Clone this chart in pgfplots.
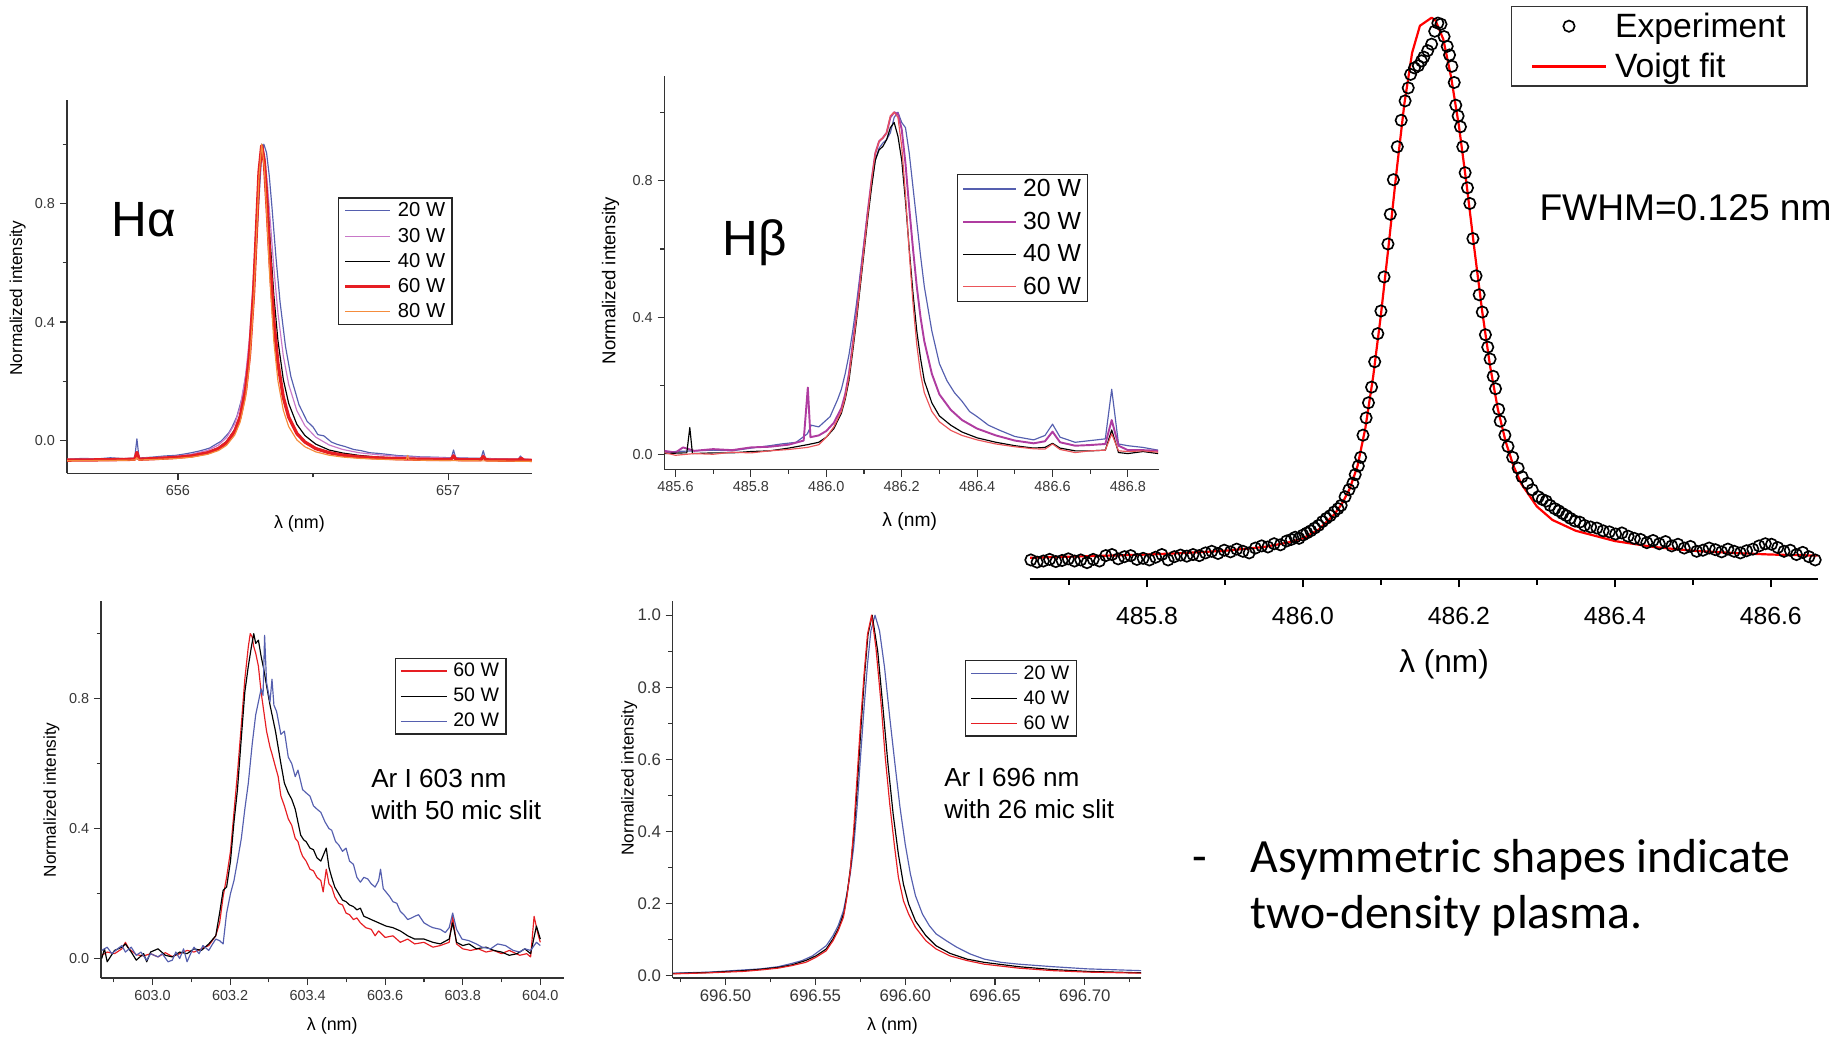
\documentclass[border=0pt]{standalone}
\usepackage{fontspec}
\setmainfont{Liberation Sans}
\newfontfamily\calibri{Carlito}
\usepackage{pgfplots}
\pgfplotsset{compat=1.18}

\definecolor{cblue}{RGB}{85,95,175}
\definecolor{cmagL}{RGB}{200,120,200}
\definecolor{cmag}{RGB}{175,60,160}
\definecolor{cred}{RGB}{230,30,35}
\definecolor{credL}{RGB}{235,85,90}
\definecolor{corange}{RGB}{245,140,60}
\definecolor{tgray}{RGB}{55,55,55}

\pgfplotsset{
  small/.style={
    scale only axis, axis lines=left,
    axis line style={-, line width=0.9pt, draw=black!80},
    x axis line style={-}, y axis line style={-},
    tick align=outside, major tick length=1.8mm, minor tick length=1.1mm,
    tick style={line width=0.8pt, draw=black!80},
    ticklabel style={font=\fontsize{10.5}{12}\selectfont, text=tgray},
    legend cell align=left,
    every axis plot/.append style={line join=round},
    legend style={draw=black!85, line width=1pt, inner xsep=3.5pt, inner ysep=2pt, column sep=3pt, nodes={inner sep=1.5pt}},
  }
}

\begin{document}
\begin{tikzpicture}
\path[use as bounding box] (0,0) rectangle (470.4mm,-265.2mm);

% ---------------- H alpha ----------------
\begin{axis}[small, at={(17.1mm,-120.9mm)}, anchor=south west, width=118.8mm, height=95.4mm,
 xmin=655.589, xmax=657.31, ymin=-0.11, ymax=1.15,
 xtick={656,657}, xticklabels={656,657}, minor xtick={656.5},
 ytick={0,0.4,0.8}, yticklabels={0.0,0.4,0.8}, minor ytick={0.2,0.6,1.0},
 xlabel={λ (nm)}, ylabel={Normalized intensity},
 xlabel style={at={(axis description cs:0.5,-0.135)}, anchor=center, font=\fontsize{13}{15}\selectfont},
 ylabel style={at={(axis description cs:-0.106,0.469)}, anchor=center, font=\fontsize{12.5}{14}\selectfont},
 legend style={at={(0.583,0.739)}, anchor=north west, font=\fontsize{14.7}{16}\selectfont, row sep=3.6pt},
 legend image code/.code={\draw[#1] (0mm,0mm) -- (11.5mm,0mm);},
]
\addplot[cblue, line width=0.85pt] coordinates {
(655.59,-0.063) (655.65,-0.060) (655.70,-0.062) (655.75,-0.058) (655.80,-0.061) (655.84,-0.059) (655.848,0.006) (655.856,-0.059)
(655.91,-0.0555) (655.95,-0.052) (655.99,-0.050) (656.02,-0.046) (656.05,-0.041) (656.08,-0.035) (656.10,-0.030) (656.118,-0.025)
(656.13,-0.018) (656.158,-0.003) (656.17,0.008) (656.188,0.026) (656.20,0.045) (656.218,0.081) (656.238,0.147) (656.258,0.262)
(656.273,0.404) (656.288,0.616) (656.298,0.787) (656.308,0.937) (656.318,1.0) (656.328,0.971) (656.338,0.893) (656.348,0.787)
(656.363,0.616) (656.378,0.467) (656.398,0.318) (656.418,0.216) (656.448,0.121) (656.478,0.065) (656.50,0.046) (656.518,0.020)
(656.54,0.016) (656.568,-0.005) (656.59,-0.013) (656.618,-0.020) (656.65,-0.030) (656.678,-0.034) (656.71,-0.041) (656.738,-0.043)
(656.77,-0.046) (656.818,-0.051) (656.85,-0.052) (656.898,-0.055) (656.95,-0.056) (656.978,-0.057) (657.012,-0.058) (657.020,-0.032)
(657.028,-0.058) (657.07,-0.059) (657.122,-0.060) (657.130,-0.034) (657.138,-0.060) (657.19,-0.062) (657.26,-0.063) (657.268,-0.052)
(657.276,-0.063) (657.31,-0.065)};
\addplot[cmagL, line width=0.85pt] coordinates {
(655.59,-0.063) (655.69,-0.062) (655.79,-0.061) (655.84,-0.060) (655.848,-0.038) (655.856,-0.060) (655.91,-0.0575) (655.99,-0.053)
(656.05,-0.046) (656.11,-0.033) (656.15,-0.015) (656.18,0.010) (656.21,0.056) (656.23,0.113) (656.25,0.216) (656.265,0.350)
(656.28,0.563) (656.29,0.749) (656.30,0.923) (656.31,1.0) (656.32,0.967) (656.33,0.879) (656.34,0.762) (656.355,0.582)
(656.37,0.431) (656.39,0.285) (656.41,0.189) (656.44,0.101) (656.47,0.050) (656.51,0.0115) (656.56,-0.015) (656.61,-0.030)
(656.67,-0.041) (656.73,-0.047) (656.81,-0.053) (656.89,-0.056) (656.97,-0.058) (657.01,-0.059) (657.02,-0.046) (657.03,-0.059)
(657.07,-0.060) (657.12,-0.061) (657.13,-0.048) (657.14,-0.061) (657.19,-0.062) (657.26,-0.062) (657.27,-0.056) (657.28,-0.062)
(657.31,-0.064)};
\addplot[black, line width=0.85pt] coordinates {
(655.59,-0.066) (655.69,-0.065) (655.79,-0.0635) (655.84,-0.063) (655.848,-0.048) (655.856,-0.063) (655.91,-0.061) (655.99,-0.057)
(656.05,-0.051) (656.11,-0.040) (656.15,-0.024) (656.18,-0.003) (656.21,0.037) (656.23,0.087) (656.25,0.180) (656.265,0.306)
(656.28,0.517) (656.29,0.713) (656.30,0.910) (656.31,1.0) (656.32,0.954) (656.33,0.837) (656.34,0.691) (656.355,0.489)
(656.37,0.338) (656.39,0.206) (656.41,0.125) (656.44,0.055) (656.47,0.017) (656.51,-0.012) (656.56,-0.032) (656.61,-0.042)
(656.67,-0.050) (656.73,-0.055) (656.81,-0.059) (656.89,-0.061) (656.97,-0.063) (657.01,-0.063) (657.02,-0.056) (657.03,-0.064)
(657.07,-0.064) (657.12,-0.065) (657.13,-0.058) (657.14,-0.065) (657.19,-0.065) (657.31,-0.066)};
\addplot[cred, line width=2.4pt] coordinates {
(655.59,-0.066) (655.69,-0.0652) (655.79,-0.064) (655.84,-0.063) (655.848,-0.040) (655.856,-0.063) (655.91,-0.061) (655.99,-0.057)
(656.05,-0.052) (656.11,-0.041) (656.15,-0.027) (656.18,-0.007) (656.21,0.031) (656.23,0.079) (656.25,0.168) (656.265,0.291)
(656.28,0.50) (656.29,0.700) (656.30,0.905) (656.31,0.995) (656.32,0.937) (656.33,0.786) (656.34,0.616) (656.355,0.403)
(656.37,0.261) (656.39,0.146) (656.41,0.079) (656.44,0.024) (656.47,-0.005) (656.51,-0.027) (656.56,-0.041) (656.61,-0.049)
(656.67,-0.055) (656.73,-0.058) (656.81,-0.061) (656.89,-0.063) (656.97,-0.064) (657.01,-0.064) (657.02,-0.052) (657.03,-0.064)
(657.07,-0.065) (657.12,-0.065) (657.13,-0.054) (657.14,-0.065) (657.19,-0.066) (657.26,-0.066) (657.27,-0.060) (657.28,-0.066)
(657.31,-0.067)};
\addplot[corange, line width=0.85pt] coordinates {
(655.59,-0.068) (655.69,-0.0675) (655.79,-0.0665) (655.84,-0.0656) (655.848,-0.058) (655.856,-0.0655) (655.91,-0.064) (655.99,-0.0607)
(656.05,-0.056) (656.11,-0.0464) (656.15,-0.0336) (656.18,-0.016) (656.21,0.0184) (656.23,0.062) (656.25,0.144) (656.265,0.259)
(656.28,0.465) (656.29,0.671) (656.30,0.893) (656.31,1.0) (656.32,0.919) (656.33,0.737) (656.34,0.547) (656.355,0.333)
(656.37,0.202) (656.39,0.102) (656.41,0.047) (656.44,0.0023) (656.47,-0.021) (656.51,-0.038) (656.56,-0.0494) (656.61,-0.0556)
(656.67,-0.060) (656.73,-0.0626) (656.81,-0.0648) (656.845,-0.065) (656.85,-0.050) (656.855,-0.065) (656.89,-0.066) (656.97,-0.067)
(657.07,-0.068) (657.19,-0.069) (657.31,-0.070)};
\legend{20 W,30 W,40 W,60 W,80 W}
\end{axis}

% ---------------- H beta ----------------
\begin{axis}[small, at={(169.8mm,-120mm)}, anchor=south west, width=126.3mm, height=100.5mm,
 xmin=485.571, xmax=486.882, ymin=-0.045, ymax=1.105,
 xtick={485.6,485.8,486.0,486.2,486.4,486.6,486.8}, xticklabels={485.6,485.8,486.0,486.2,486.4,486.6,486.8},
 minor xtick={485.7,485.9,486.1,486.3,486.5,486.7},
 ytick={0,0.4,0.8}, yticklabels={0.0,0.4,0.8}, minor ytick={0.2,0.6,1.0},
 xlabel={λ (nm)}, ylabel={Normalized intensity},
 xlabel style={at={(axis description cs:0.496,-0.131)}, anchor=center, font=\fontsize{14}{16}\selectfont},
 ylabel style={at={(axis description cs:-0.109,0.481)}, anchor=center, font=\fontsize{13.5}{15}\selectfont},
 legend style={at={(0.591,0.752)}, anchor=north west, font=\fontsize{18}{19}\selectfont, row sep=6.6pt},
 legend image code/.code={\draw[#1] (0mm,0mm) -- (13.5mm,0mm);},
]
\addplot[cblue, line width=0.85pt] coordinates {
(485.57,0.005) (485.60,0.008) (485.65,0.010) (485.70,0.012) (485.75,0.010) (485.80,0.018) (485.85,0.025) (485.88,0.030)
(485.92,0.035) (485.95,0.060) (485.96,0.085) (485.98,0.080) (486.00,0.100) (486.01,0.110) (486.02,0.135) (486.03,0.160)
(486.04,0.190) (486.05,0.235) (486.06,0.29) (486.07,0.36) (486.08,0.44) (486.09,0.53) (486.10,0.62) (486.11,0.71)
(486.12,0.79) (486.13,0.86) (486.14,0.895) (486.15,0.91) (486.16,0.92) (486.17,0.94) (486.18,0.985) (486.19,1.0)
(486.20,0.97) (486.21,0.955) (486.22,0.880) (486.23,0.780) (486.24,0.680) (486.25,0.580) (486.26,0.490) (486.28,0.360)
(486.30,0.265) (486.32,0.215) (486.34,0.180) (486.36,0.155) (486.38,0.125) (486.40,0.110) (486.43,0.085) (486.46,0.070)
(486.50,0.052) (486.55,0.042) (486.58,0.055) (486.60,0.088) (486.62,0.050) (486.66,0.035) (486.70,0.040) (486.74,0.045)
(486.757,0.190) (486.775,0.030) (486.80,0.025) (486.84,0.020) (486.88,0.012)};
\addplot[cmag, line width=1.4pt] coordinates {
(485.57,0.010) (485.60,0.005) (485.62,0.020) (485.65,0.010) (485.70,0.015) (485.75,0.012) (485.80,0.020) (485.85,0.022)
(485.90,0.028) (485.94,0.040) (485.951,0.195) (485.958,0.050) (485.98,0.055) (486.00,0.068) (486.02,0.092) (486.04,0.135)
(486.05,0.175) (486.06,0.235) (486.07,0.32) (486.08,0.41) (486.09,0.51) (486.10,0.61) (486.11,0.71) (486.12,0.80)
(486.13,0.88) (486.14,0.915) (486.15,0.925) (486.16,0.94) (486.17,0.985) (486.18,1.0) (486.19,0.995) (486.20,0.950)
(486.21,0.850) (486.22,0.720) (486.23,0.600) (486.24,0.490) (486.25,0.400) (486.26,0.330) (486.28,0.235) (486.30,0.175)
(486.33,0.130) (486.36,0.100) (486.40,0.075) (486.45,0.055) (486.50,0.040) (486.55,0.032) (486.58,0.038) (486.60,0.066)
(486.62,0.035) (486.66,0.025) (486.70,0.027) (486.74,0.030) (486.757,0.100) (486.775,0.025) (486.80,0.012) (486.84,0.012)
(486.88,0.010)};
\addplot[black, line width=0.85pt] coordinates {
(485.57,0.002) (485.62,0.004) (485.63,0.004) (485.638,0.078) (485.645,0.002) (485.70,0.004) (485.75,0.004) (485.80,0.008)
(485.85,0.010) (485.90,0.018) (485.95,0.028) (485.98,0.035) (486.00,0.050) (486.02,0.075) (486.04,0.120) (486.05,0.160)
(486.06,0.215) (486.07,0.30) (486.08,0.39) (486.09,0.49) (486.10,0.59) (486.11,0.69) (486.12,0.78) (486.13,0.86)
(486.14,0.89) (486.15,0.90) (486.16,0.92) (486.17,0.955) (486.18,0.970) (486.19,0.930) (486.20,0.860) (486.21,0.740)
(486.22,0.600) (486.23,0.470) (486.24,0.360) (486.25,0.280) (486.26,0.215) (486.28,0.150) (486.30,0.112) (486.33,0.085)
(486.36,0.065) (486.40,0.048) (486.45,0.035) (486.50,0.025) (486.55,0.018) (486.58,0.020) (486.60,0.032) (486.62,0.018)
(486.66,0.010) (486.70,0.010) (486.74,0.012) (486.757,0.071) (486.775,0.005) (486.80,0.002) (486.84,0.008) (486.88,0.002)};
\addplot[credL, line width=0.85pt] coordinates {
(485.57,0.005) (485.60,-0.003) (485.65,0.002) (485.70,0.0) (485.75,0.006) (485.80,0.004) (485.85,0.010) (485.90,0.014)
(485.95,0.020) (485.98,0.028) (486.00,0.050) (486.02,0.080) (486.04,0.125) (486.05,0.165) (486.06,0.225) (486.07,0.31)
(486.08,0.40) (486.09,0.50) (486.10,0.60) (486.11,0.70) (486.12,0.80) (486.13,0.88) (486.14,0.915) (486.15,0.925)
(486.16,0.94) (486.17,0.99) (486.18,1.0) (486.19,0.985) (486.20,0.900) (486.21,0.760) (486.22,0.590) (486.23,0.440)
(486.24,0.320) (486.25,0.235) (486.26,0.180) (486.28,0.125) (486.30,0.095) (486.33,0.070) (486.36,0.055) (486.40,0.042)
(486.45,0.030) (486.50,0.022) (486.55,0.016) (486.58,0.015) (486.60,0.030) (486.62,0.014) (486.66,0.005) (486.70,0.010)
(486.74,0.012) (486.757,0.060) (486.775,0.010) (486.80,0.008) (486.84,0.010) (486.88,0.006)};
\legend{20 W,30 W,40 W,60 W}
\end{axis}

% ---------------- Voigt ----------------
\begin{axis}[scale only axis, at={(263.1mm,-147.9mm)}, anchor=south west, width=201.3mm, height=144.9mm,
 axis x line=bottom, axis y line=none, x axis line style={-, line width=1.6pt},
 xmin=485.6495, xmax=486.66, ymin=-0.039, ymax=1.011, clip=false,
 xtick={485.8,486.0,486.2,486.4,486.6}, xticklabels={485.8,486.0,486.2,486.4,486.6},
 minor xtick={485.7,485.9,486.1,486.3,486.5}, ytick=\empty,
 tick align=outside, major tick length=2.2mm, minor tick length=1.5mm, tick style={line width=1.2pt, black},
 ticklabel style={font=\fontsize{18}{20}\selectfont},
 xticklabel style={yshift=-3.8mm},
 xlabel={λ (nm)}, xlabel style={at={(axis description cs:0.526,-0.151)}, anchor=center, font=\fontsize{23}{26}\selectfont},
 legend cell align=left,
 legend style={at={(0.611,1.010)}, anchor=north west, font=\fontsize{24.5}{26}\selectfont, draw=black!80, line width=1pt,
   row sep=7pt, inner xsep=5mm, inner ysep=3pt, column sep=1.6mm, nodes={inner sep=1.5pt}},
 legend image code/.code={\draw[mark repeat=2, mark phase=2, #1] plot coordinates {(0mm,0mm) (9.35mm,0mm) (18.7mm,0mm)};},
]
\addplot[only marks, mark=o, mark size=1.45mm, mark options={line width=1.2pt, black}] coordinates {
(485.651,-0.004) (485.659,-0.008) (485.667,-0.006) (485.675,-0.003) (485.683,-0.007) (485.691,-0.005) (485.699,-0.002) (485.707,-0.006)
(485.715,-0.004) (485.723,-0.009) (485.731,-0.003) (485.739,-0.006) (485.747,0.004) (485.755,0.006) (485.763,-0.002) (485.771,0.002)
(485.779,0.004) (485.787,-0.003) (485.795,-0.001) (485.803,-0.004) (485.811,0.001) (485.819,0.006) (485.827,-0.004) (485.835,0.002)
(485.843,0.005) (485.851,0.003) (485.859,0.006) (485.867,0.004) (485.875,0.009) (485.883,0.012) (485.891,0.008) (485.899,0.014)
(485.907,0.011) (485.915,0.016) (485.923,0.012) (485.931,0.009) (485.939,0.018) (485.947,0.022) (485.955,0.020) (485.963,0.026)
(485.971,0.024) (485.979,0.031) (485.985,0.034) (485.990,0.038) (485.995,0.036) (486.000,0.042) (486.005,0.046) (486.010,0.050)
(486.015,0.055) (486.020,0.060) (486.025,0.067) (486.030,0.073) (486.035,0.078) (486.040,0.085) (486.045,0.091) (486.049,0.097)
(486.054,0.113) (486.059,0.126) (486.064,0.138) (486.067,0.154) (486.071,0.170) (486.074,0.186) (486.077,0.227) (486.081,0.259)
(486.084,0.287) (486.088,0.316) (486.092,0.363) (486.096,0.415) (486.100,0.457) (486.104,0.520) (486.109,0.581) (486.112,0.636)
(486.116,0.700) (486.121,0.761) (486.126,0.810) (486.131,0.846) (486.135,0.870) (486.138,0.895) (486.143,0.907) (486.148,0.911)
(486.152,0.920) (486.155,0.927) (486.160,0.939) (486.165,0.951) (486.169,0.975) (486.173,0.990) (486.177,0.988) (486.181,0.965)
(486.185,0.947) (486.188,0.931) (486.191,0.910) (486.194,0.880) (486.196,0.838) (486.199,0.818) (486.202,0.798) (486.205,0.761)
(486.208,0.713) (486.211,0.685) (486.214,0.656) (486.218,0.591) (486.222,0.522) (486.226,0.487) (486.230,0.455) (486.234,0.413)
(486.237,0.390) (486.240,0.368) (486.244,0.336) (486.247,0.313) (486.251,0.275) (486.253,0.253) (486.259,0.227) (486.263,0.206)
(486.269,0.186) (486.276,0.166) (486.281,0.150) (486.288,0.138) (486.294,0.126) (486.302,0.113) (486.307,0.108) (486.312,0.105)
(486.317,0.097) (486.323,0.091) (486.328,0.087) (486.333,0.082) (486.338,0.078) (486.343,0.073) (486.349,0.068) (486.355,0.066)
(486.361,0.060) (486.369,0.057) (486.377,0.055) (486.385,0.050) (486.393,0.048) (486.401,0.044) (486.409,0.046) (486.417,0.040)
(486.425,0.036) (486.433,0.034) (486.441,0.028) (486.449,0.032) (486.457,0.026) (486.465,0.030) (486.473,0.022) (486.481,0.025)
(486.489,0.018) (486.497,0.021) (486.505,0.012) (486.513,0.014) (486.521,0.018) (486.529,0.015) (486.537,0.011) (486.545,0.016)
(486.553,0.012) (486.561,0.009) (486.569,0.013) (486.577,0.016) (486.585,0.022) (486.593,0.026) (486.601,0.025) (486.609,0.019)
(486.617,0.012) (486.625,0.014) (486.633,0.006) (486.641,0.010) (486.649,0.002) (486.657,-0.004)};
\addlegendentry{Experiment}
\addplot[red, line width=1.6pt, mark=none, line join=round] coordinates {
(485.65,0.0) (485.70,0.002) (485.75,0.004) (485.80,0.006) (485.85,0.009) (485.90,0.013) (485.95,0.020) (485.98,0.028)
(486.00,0.036) (486.02,0.052) (486.04,0.080) (486.05,0.100) (486.06,0.128) (486.07,0.170) (486.08,0.240) (486.09,0.335)
(486.10,0.450) (486.11,0.580) (486.12,0.715) (486.13,0.840) (486.14,0.935) (486.15,0.985) (486.165,1.0) (486.17,0.995)
(486.18,0.960) (486.19,0.890) (486.20,0.800) (486.21,0.690) (486.22,0.570) (486.23,0.455) (486.24,0.355) (486.25,0.275)
(486.26,0.215) (486.27,0.170) (486.28,0.137) (486.30,0.095) (486.32,0.070) (486.35,0.050) (486.40,0.031) (486.45,0.020)
(486.50,0.013) (486.55,0.009) (486.60,0.006) (486.66,0.004)};
\addlegendentry{Voigt fit}
\end{axis}

% ---------------- Ar I 603 ----------------
\begin{axis}[small, at={(25.8mm,-249.9mm)}, anchor=south west, width=118.2mm, height=96.3mm,
 xmin=602.867, xmax=604.06, ymin=-0.06, ymax=1.10,
 xtick={603.0,603.2,603.4,603.6,603.8,604.0}, xticklabels={603.0,603.2,603.4,603.6,603.8,604.0},
 minor xtick={602.9,603.1,603.3,603.5,603.7,603.9},
 ytick={0,0.4,0.8}, yticklabels={0.0,0.4,0.8}, minor ytick={0.2,0.6,1.0},
 xlabel={λ (nm)}, ylabel={Normalized intensity},
 xlabel style={at={(axis description cs:0.5,-0.128)}, anchor=center, font=\fontsize{13}{15}\selectfont},
 ylabel style={at={(axis description cs:-0.107,0.473)}, anchor=center, font=\fontsize{12.5}{14}\selectfont},
 legend style={at={(0.635,0.850)}, anchor=north west, font=\fontsize{14.2}{15}\selectfont, row sep=3.8pt},
 legend image code/.code={\draw[#1] (0mm,0mm) -- (11.7mm,0mm);},
]
\addplot[cred, line width=0.85pt] coordinates {
(602.869,0.010) (602.883,0.020) (602.902,0.015) (602.921,0.030) (602.930,0.050) (602.939,0.030) (602.958,0.012) (602.977,0.008)
(602.995,0.015) (603.014,0.005) (603.033,0.018) (603.051,0.006) (603.070,0.015) (603.089,0.025) (603.107,0.020) (603.126,0.030)
(603.145,0.040) (603.163,0.070) (603.173,0.110) (603.182,0.190) (603.191,0.250) (603.201,0.330) (603.210,0.450) (603.219,0.570)
(603.229,0.720) (603.238,0.860) (603.247,0.960) (603.252,1.000) (603.257,0.990) (603.261,0.960) (603.266,0.940) (603.273,0.900)
(603.280,0.820) (603.287,0.760) (603.294,0.700) (603.303,0.650) (603.308,0.630) (603.317,0.590) (603.324,0.560) (603.331,0.500)
(603.340,0.470) (603.350,0.430) (603.359,0.410) (603.368,0.370) (603.375,0.360) (603.382,0.330) (603.387,0.315) (603.396,0.300)
(603.406,0.275) (603.415,0.270) (603.424,0.250) (603.434,0.240) (603.440,0.205) (603.448,0.275) (603.455,0.230) (603.462,0.220)
(603.470,0.190) (603.480,0.170) (603.490,0.165) (603.499,0.140) (603.508,0.135) (603.518,0.120) (603.527,0.125) (603.536,0.110)
(603.550,0.095) (603.564,0.090) (603.574,0.070) (603.583,0.085) (603.600,0.065) (603.620,0.070) (603.639,0.050) (603.658,0.060)
(603.676,0.045) (603.700,0.050) (603.723,0.035) (603.742,0.040) (603.765,0.050) (603.774,0.130) (603.784,0.045) (603.800,0.030)
(603.820,0.025) (603.840,0.030) (603.860,0.020) (603.880,0.025) (603.900,0.015) (603.920,0.025) (603.947,0.010) (603.965,0.015)
(603.975,0.005) (603.984,0.130) (603.993,0.080) (604.000,0.050)};
\addplot[black, line width=0.85pt] coordinates {
(602.869,0.000) (602.876,0.030) (602.883,-0.010) (602.902,0.025) (602.921,0.035) (602.930,0.045) (602.945,0.020) (602.958,-0.005)
(602.977,0.015) (602.985,-0.010) (602.995,0.020) (603.014,0.030) (603.033,0.010) (603.051,0.005) (603.070,0.020) (603.089,0.015)
(603.107,0.030) (603.126,0.025) (603.145,0.045) (603.163,0.070) (603.173,0.140) (603.182,0.210) (603.191,0.220) (603.201,0.300)
(603.210,0.420) (603.219,0.520) (603.229,0.680) (603.238,0.820) (603.247,0.900) (603.255,0.960) (603.261,1.000) (603.266,0.970)
(603.273,0.980) (603.280,0.930) (603.287,0.890) (603.294,0.840) (603.303,0.780) (603.310,0.740) (603.317,0.700) (603.324,0.650)
(603.331,0.600) (603.340,0.540) (603.350,0.510) (603.359,0.490) (603.368,0.460) (603.375,0.420) (603.382,0.380) (603.390,0.365)
(603.396,0.360) (603.406,0.340) (603.415,0.335) (603.424,0.310) (603.434,0.300) (603.448,0.340) (603.455,0.280) (603.462,0.250)
(603.470,0.220) (603.480,0.200) (603.490,0.180) (603.499,0.175) (603.508,0.165) (603.518,0.160) (603.527,0.150) (603.536,0.155)
(603.545,0.130) (603.555,0.125) (603.564,0.120) (603.583,0.110) (603.602,0.100) (603.620,0.095) (603.639,0.085) (603.658,0.070)
(603.676,0.060) (603.700,0.060) (603.723,0.050) (603.742,0.045) (603.765,0.060) (603.774,0.110) (603.784,0.050) (603.800,0.040)
(603.816,0.045) (603.835,0.030) (603.860,0.035) (603.880,0.025) (603.900,0.020) (603.920,0.010) (603.940,0.015) (603.960,0.030)
(603.975,0.015) (603.990,0.100) (604.000,0.060)};
\addplot[cblue, line width=0.85pt] coordinates {
(602.869,0.025) (602.883,0.035) (602.895,0.015) (602.910,0.030) (602.921,0.040) (602.930,0.020) (602.945,0.035) (602.958,0.010)
(602.970,0.020) (602.985,-0.005) (602.995,0.015) (603.014,0.005) (603.025,0.015) (603.040,-0.010) (603.051,-0.005) (603.060,0.020)
(603.070,0.000) (603.080,0.030) (603.089,-0.010) (603.100,0.020) (603.107,0.035) (603.120,0.015) (603.130,0.040) (603.145,0.025)
(603.155,0.045) (603.163,0.060) (603.173,0.055) (603.182,0.045) (603.191,0.140) (603.201,0.200) (603.210,0.240) (603.219,0.300)
(603.229,0.370) (603.238,0.460) (603.247,0.540) (603.257,0.660) (603.266,0.750) (603.273,0.790) (603.280,0.830) (603.285,0.810)
(603.289,0.995) (603.294,0.850) (603.303,0.790) (603.308,0.860) (603.313,0.780) (603.320,0.760) (603.331,0.690) (603.340,0.700)
(603.350,0.620) (603.359,0.600) (603.368,0.560) (603.375,0.580) (603.387,0.520) (603.396,0.510) (603.406,0.500) (603.415,0.470)
(603.424,0.460) (603.434,0.450) (603.445,0.420) (603.455,0.400) (603.462,0.395) (603.472,0.360) (603.480,0.350) (603.490,0.330)
(603.499,0.340) (603.508,0.300) (603.518,0.290) (603.527,0.250) (603.536,0.235) (603.545,0.250) (603.555,0.245) (603.564,0.230)
(603.574,0.220) (603.583,0.240) (603.588,0.275) (603.595,0.215) (603.602,0.205) (603.612,0.190) (603.620,0.175) (603.630,0.170)
(603.639,0.145) (603.648,0.135) (603.658,0.120) (603.668,0.125) (603.676,0.130) (603.686,0.135) (603.700,0.110) (603.714,0.100)
(603.723,0.095) (603.742,0.090) (603.755,0.080) (603.765,0.095) (603.774,0.140) (603.784,0.090) (603.798,0.060) (603.816,0.055)
(603.835,0.045) (603.850,0.035) (603.872,0.030) (603.890,0.045) (603.910,0.040) (603.930,0.025) (603.947,0.020) (603.960,0.030)
(603.975,0.025) (603.990,0.050) (604.000,0.040)};
\legend{60 W,50 W,20 W}
\end{axis}

% ---------------- Ar I 696 ----------------
\begin{axis}[small, at={(171.9mm,-249.9mm)}, anchor=south west, width=119.7mm, height=96.3mm,
 xmin=696.4706, xmax=696.7314, ymin=-0.0065, ymax=1.039,
 xtick={696.50,696.55,696.60,696.65,696.70}, xticklabels={696.50,696.55,696.60,696.65,696.70},
 minor xtick={696.475,696.525,696.575,696.625,696.675,696.725},
 ytick={0,0.2,0.4,0.6,0.8,1.0}, yticklabels={0.0,0.2,0.4,0.6,0.8,1.0}, minor ytick={0.1,0.3,0.5,0.7,0.9},
 ticklabel style={font=\fontsize{12.2}{14}\selectfont},
 xlabel={λ (nm)}, ylabel={Normalized intensity},
 xlabel style={at={(axis description cs:0.469,-0.128)}, anchor=center, font=\fontsize{13}{15}\selectfont},
 ylabel style={at={(axis description cs:-0.093,0.53)}, anchor=center, font=\fontsize{12.5}{14}\selectfont},
 legend style={at={(0.624,0.844)}, anchor=north west, font=\fontsize{14.2}{15}\selectfont, row sep=3.8pt},
 legend image code/.code={\draw[#1] (0mm,0mm) -- (11.7mm,0mm);},
]
\addplot[cblue, line width=0.85pt] coordinates {
(696.4706,0.007) (696.4910,0.010) (696.5101,0.016) (696.5197,0.019) (696.5293,0.025) (696.5369,0.034) (696.5426,0.042) (696.5484,0.055)
(696.5522,0.069) (696.5560,0.083) (696.5598,0.111) (696.5627,0.139) (696.5656,0.180) (696.5675,0.226) (696.5694,0.282) (696.5713,0.356)
(696.5732,0.467) (696.5751,0.605) (696.5771,0.744) (696.5790,0.864) (696.5809,0.957) (696.5832,1.0) (696.5857,0.957) (696.5885,0.855)
(696.5914,0.716) (696.5943,0.587) (696.5971,0.467) (696.6000,0.365) (696.6029,0.282) (696.6057,0.222) (696.6096,0.171) (696.6134,0.139)
(696.6172,0.116) (696.6229,0.097) (696.6287,0.079) (696.6363,0.060) (696.6440,0.046) (696.6535,0.037) (696.6631,0.032) (696.6822,0.025)
(696.7013,0.019) (696.7314,0.014)};
\addplot[black, line width=0.85pt] coordinates {
(696.4706,0.006) (696.4910,0.009) (696.5101,0.014) (696.5197,0.018) (696.5293,0.023) (696.5369,0.030) (696.5446,0.042) (696.5503,0.055)
(696.5560,0.074) (696.5598,0.102) (696.5631,0.134) (696.5660,0.176) (696.5679,0.236) (696.5698,0.310) (696.5717,0.411) (696.5736,0.550)
(696.5755,0.698) (696.5774,0.836) (696.5793,0.947) (696.5816,1.0) (696.5847,0.900) (696.5876,0.744) (696.5904,0.587) (696.5933,0.448)
(696.5962,0.337) (696.5990,0.254) (696.6019,0.199) (696.6057,0.152) (696.6115,0.111) (696.6172,0.083) (696.6249,0.062) (696.6344,0.046)
(696.6440,0.037) (696.6631,0.025) (696.6822,0.017) (696.7013,0.012) (696.7314,0.008)};
\addplot[cred, line width=0.85pt] coordinates {
(696.4706,0.005) (696.4910,0.008) (696.5101,0.012) (696.5197,0.016) (696.5293,0.021) (696.5369,0.028) (696.5446,0.037) (696.5503,0.051)
(696.5560,0.069) (696.5598,0.097) (696.5627,0.125) (696.5656,0.162) (696.5675,0.217) (696.5694,0.291) (696.5713,0.402) (696.5732,0.550)
(696.5751,0.698) (696.5771,0.836) (696.5790,0.947) (696.5813,1.0) (696.5837,0.910) (696.5866,0.753) (696.5889,0.605) (696.5914,0.476)
(696.5939,0.365) (696.5962,0.273) (696.5990,0.208) (696.6019,0.171) (696.6057,0.134) (696.6115,0.097) (696.6172,0.074) (696.6249,0.055)
(696.6344,0.042) (696.6440,0.032) (696.6631,0.021) (696.6822,0.014) (696.7013,0.010) (696.7314,0.007)};
\legend{20 W,40 W,60 W}
\end{axis}

% ---------------- text ----------------
\node[anchor=base west, inner sep=0pt, font=\fontsize{36}{40}\selectfont] at (28.5mm,-60.3mm) {Hα};
\node[anchor=base west, inner sep=0pt, font=\fontsize{36}{40}\selectfont] at (184.5mm,-65.4mm) {Hβ};
\node[anchor=base west, inner sep=0pt, font=\fontsize{27}{30}\selectfont] at (393.3mm,-56.4mm) {FWHM=0.125 nm};
\node[anchor=base west, inner sep=0pt, font=\fontsize{19}{22}\selectfont] at (94.8mm,-201.3mm) {Ar I 603 nm};
\node[anchor=base west, inner sep=0pt, font=\fontsize{19}{22}\selectfont] at (94.8mm,-209.4mm) {with 50 mic slit};
\node[anchor=base west, inner sep=0pt, font=\fontsize{19}{22}\selectfont] at (241.2mm,-201mm) {Ar I 696 nm};
\node[anchor=base west, inner sep=0pt, font=\fontsize{19}{22}\selectfont] at (241.2mm,-209.1mm) {with 26 mic slit};
\node[anchor=base west, inner sep=0pt, font=\calibri\fontsize{34.7}{40}\selectfont] at (304.5mm,-222.9mm) {-};
\node[anchor=base west, inner sep=0pt, font=\calibri\fontsize{34.7}{40}\selectfont] at (319.5mm,-222.9mm) {Asymmetric shapes indicate};
\node[anchor=base west, inner sep=0pt, font=\calibri\fontsize{34.7}{40}\selectfont] at (319.5mm,-237.3mm) {two-density plasma.};
\end{tikzpicture}
\end{document}
